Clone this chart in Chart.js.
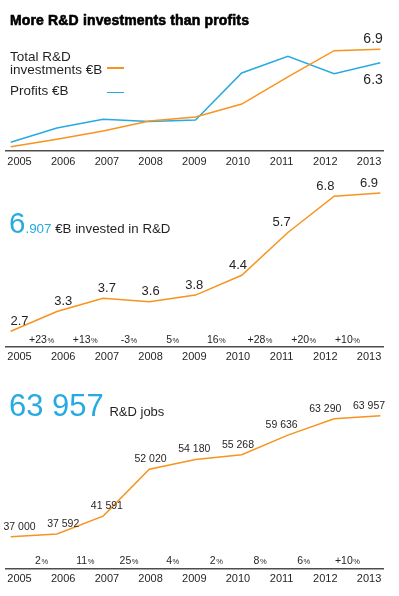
<!DOCTYPE html>
<html>
<head>
<meta charset="utf-8">
<script src="https://cdn.jsdelivr.net/npm/chart.js@4.4.1/dist/chart.umd.min.js"></script>
<style>
  body { margin: 0; background: #fff; font-family: "Liberation Sans", Arial, sans-serif; color: #231f20; }
  #page { position: relative; width: 399px; height: 596px; overflow: hidden; }
  canvas { position: absolute; left: 0; }
  .txt { position: absolute; white-space: nowrap; line-height: 1; z-index: 2; }
  .key { position: absolute; left: 107px; width: 17px; height: 1.5px; z-index: 2; }
  .cyan { color: #27aae1; }
  .title { font-size: 14px; font-weight: bold; color: #000; letter-spacing: 0.15px; -webkit-text-stroke: 0.6px #000; }
</style>
</head>
<body>
<div id="page">
  <canvas id="profitChart" width="399" height="170" style="top:0"></canvas>
  <canvas id="investChart" width="399" height="200" style="top:170px"></canvas>
  <canvas id="jobsChart" width="399" height="226" style="top:370px"></canvas>

  <div class="txt title" style="left:10px; top:12.5px">More R&amp;D investments than profits</div>
  <div class="txt" style="left:10px; top:49.6px; font-size:13.5px">Total R&amp;D</div>
  <div class="txt" style="left:10px; top:62.6px; font-size:13.5px">investments €B</div>
  <div class="key" style="top:67px; background:#f7941e"></div>
  <div class="txt" style="left:10px; top:83.6px; font-size:13.5px">Profits €B</div>
  <div class="key" style="top:91.6px; background:#27aae1"></div>

  <div class="txt" style="left:9px; top:207.7px; font-size:29.5px"><span class="cyan">6</span><span class="cyan" style="font-size:13.4px">.907</span><span style="font-size:13.3px"> €B invested in R&amp;D</span></div>

  <div class="txt" style="left:9px; top:389.8px; font-size:31px"><span class="cyan">63 957</span><span style="font-size:13px; margin-left:2px"> R&amp;D jobs</span></div>
</div>
<script>
const years = [2005, 2006, 2007, 2008, 2009, 2010, 2011, 2012, 2013];
// top chart, as drawn
const investTrend = [2.7, 3.02, 3.38, 3.81, 3.98, 4.54, 5.71, 6.84, 6.9];
const profits = [2.89, 3.51, 3.88, 3.79, 3.85, 5.88, 6.6, 5.85, 6.32];
// middle chart
const invested = [2.7, 3.3, 3.7, 3.6, 3.8, 4.4, 5.7, 6.8, 6.9];
const investGrowth = ["+23", "+13", "-3", "5", "16", "+28", "+20", "+10"];
// bottom chart
const jobs = [37000, 37592, 41591, 52020, 54180, 55268, 59636, 63290, 63957];
const jobsGrowth = ["2", "11", "25", "4", "2", "8", "6", "+10"];

const ORANGE = "#f7941e";
const BLUE = "#27aae1";
const INK = "#231f20";
const FONT = '"Liberation Sans", Arial, sans-serif';

Chart.defaults.font.family = FONT;

function xScales(axisHeight) {
  return {
    x: { type: "linear", display: false, min: 2004.898, max: 2013.058 },
    xl: {
      type: "linear",
      position: "bottom",
      min: 2004.691,
      max: 2013.32,
      afterBuildTicks: a => { a.ticks = years.map(v => ({ value: v })); },
      afterFit: a => { a.height = axisHeight; },
      grid: { display: false, drawTicks: false },
      border: { display: true, color: "#4d4d4d", width: 1.5 },
      ticks: { color: INK, font: { size: 11 }, padding: 4, maxRotation: 0, autoSkip: false, callback: v => String(v) }
    }
  };
}

function line(values, color) {
  return {
    data: years.map((yr, i) => ({ x: yr, y: values[i] })),
    xAxisID: "x",
    yAxisID: "y",
    borderColor: color,
    borderWidth: 1.5,
    pointRadius: 0,
    fill: false,
    tension: 0
  };
}

function pointLabels(values, fmt, size, lift) {
  return {
    id: "pointLabels",
    afterDatasetsDraw(chart) {
      const { ctx, scales } = chart;
      ctx.save();
      ctx.fillStyle = INK;
      ctx.font = size + "px " + FONT;
      ctx.textAlign = "center";
      ctx.textBaseline = "middle";
      values.forEach((v, i) => {
        ctx.fillText(fmt(v), scales.xl.getPixelForValue(years[i]), scales.y.getPixelForValue(v) - lift);
      });
      ctx.restore();
    }
  };
}

function growthLabels(values, lift) {
  return {
    id: "growthLabels",
    afterDatasetsDraw(chart) {
      const { ctx, scales, chartArea } = chart;
      const y = chartArea.bottom - lift;
      ctx.save();
      ctx.fillStyle = INK;
      ctx.textAlign = "left";
      ctx.textBaseline = "alphabetic";
      values.forEach((txt, i) => {
        ctx.font = "10.5px " + FONT;
        const w1 = ctx.measureText(txt).width;
        ctx.font = "7.5px " + FONT;
        const w2 = ctx.measureText("%").width;
        const x0 = scales.xl.getPixelForValue(years[i] + 0.5) - (w1 + w2) / 2;
        ctx.font = "10.5px " + FONT;
        ctx.fillText(txt, x0, y);
        ctx.font = "7.5px " + FONT;
        ctx.fillText("%", x0 + w1 + 0.5, y);
      });
      ctx.restore();
    }
  };
}

const endLabels = {
  id: "endLabels",
  afterDatasetsDraw(chart) {
    const { ctx, scales } = chart;
    const last = years.length - 1;
    const x = scales.x.getPixelForValue(years[last]) + 2.5;
    ctx.save();
    ctx.fillStyle = INK;
    ctx.font = "14px " + FONT;
    ctx.textAlign = "right";
    ctx.textBaseline = "middle";
    ctx.fillText(investTrend[last].toFixed(1), x, scales.y.getPixelForValue(investTrend[last]) - 10);
    ctx.fillText(profits[last].toFixed(1), x, scales.y.getPixelForValue(profits[last]) + 17);
    ctx.restore();
  }
};

const baseOptions = {
  responsive: false,
  animation: false,
  events: [],
  layout: { padding: { left: 6, right: 16, top: 0, bottom: 0 } },
  plugins: { legend: { display: false }, tooltip: { enabled: false } }
};

const spaced = v => String(v).replace(/\B(?=(\d{3})+(?!\d))/g, " ");

new Chart(document.getElementById("profitChart"), {
  type: "line",
  data: { datasets: [line(investTrend, ORANGE), line(profits, BLUE)] },
  options: Object.assign({}, baseOptions, {
    scales: Object.assign(xScales(19), { y: { display: false, min: 2.515, max: 9.026 } })
  }),
  plugins: [endLabels]
});

new Chart(document.getElementById("investChart"), {
  type: "line",
  data: { datasets: [line(invested, ORANGE)] },
  options: Object.assign({}, baseOptions, {
    scales: Object.assign(xScales(23.5), { y: { display: false, min: 2.238, max: 7.598 } })
  }),
  plugins: [pointLabels(invested, v => v.toFixed(1), 13, 10), growthLabels(investGrowth, 3.3)]
});

new Chart(document.getElementById("jobsChart"), {
  type: "line",
  data: { datasets: [line(jobs, ORANGE)] },
  options: Object.assign({}, baseOptions, {
    scales: Object.assign(xScales(27.3), { y: { display: false, min: 29871, max: 74138 } })
  }),
  plugins: [pointLabels(jobs, spaced, 10.5, 10), growthLabels(jobsGrowth, 4.7)]
});
</script>
</body>
</html>
